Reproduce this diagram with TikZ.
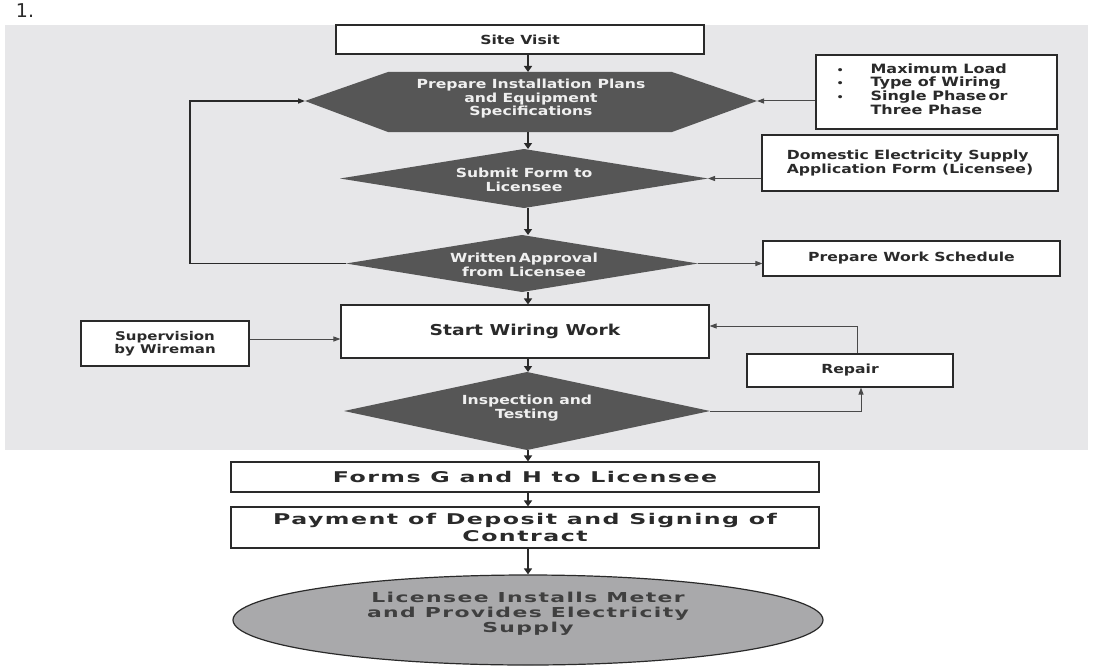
\documentclass[tikz,border=0pt]{standalone}
\usepackage{fontspec}
\setmainfont{DejaVu Sans}
\newfontfamily\vf[FakeStretch=1.25]{DejaVu Sans}
\newfontfamily\vw[FakeStretch=1.6,LetterSpace=10]{DejaVu Sans}
\usetikzlibrary{arrows.meta,shapes.geometric,calc}
\definecolor{bggray}{HTML}{E7E7E9}
\definecolor{diafill}{HTML}{565656}
\definecolor{ellfill}{HTML}{A9A9AB}
\definecolor{ink}{HTML}{2A2A2A}
\tikzset{
  box/.style={draw=ink, line width=1.1pt, fill=white, inner sep=0pt},
  txt/.style={font=\vf\bfseries\fontsize{12.5}{14}\selectfont, text=ink, align=center},
  wtxt/.style={font=\vf\bfseries\fontsize{12.5}{13.5}\selectfont, text=white!94!black, align=center},
  bigtxt/.style={font=\vw\bfseries\fontsize{14.8}{17}\selectfont, text=ink, align=center},
  arr/.style={draw=ink!85, line width=1pt, -{Triangle[length=7pt,width=5pt]}},
  axarr/.style={draw=ink, line width=1.6pt, -{Triangle[length=6pt,width=8pt]}},
}
% diamond drawn from its centre, half width and half height; named points
\newcommand\flowdia[4]{%
  \coordinate (#1L) at ($(#2)+(-#3,0)$);
  \coordinate (#1R) at ($(#2)+(#3,0)$);
  \coordinate (#1T) at ($(#2)+(0,-#4)$);
  \coordinate (#1B) at ($(#2)+(0,#4)$);
  \fill[diafill] (#1L) -- (#1T) -- (#1R) -- (#1B) -- cycle;}
\begin{document}
\begin{tikzpicture}[x=1pt,y=-1pt]
\useasboundingbox (0,0) rectangle (1094,666);
\fill[white] (0,0) rectangle (1094,666);
\fill[bggray] (5,25) rectangle (1088,450);
\node[font=\fontsize{19}{21}\selectfont, text=ink] (num) at (25,11) {1.};
\coordinate (ax) at (528,0);

% top box
\node[box, txt, minimum width=368pt, minimum height=29pt] (site) at (520,39.5) {Site Visit};

% hexagon
\coordinate (hexL) at (305,101);
\coordinate (hexR) at (757,101);
\coordinate (hexT) at (528,72);
\coordinate (hexB) at (528,132);
\fill[diafill] (hexL) -- (388,72) -- (672,72) -- (hexR) -- (672,132) -- (388,132) -- cycle;
\node[wtxt] (hex) at (531,99) {Prepare Installation Plans\\and Equipment\\Specifications};

% bullet box
\node[box, minimum width=241pt, minimum height=74pt] (load) at (936.5,92) {};
\node[txt, font=\vf\bfseries\fontsize{12.8}{13.8}\selectfont, align=left, anchor=west] (loadtxt) at (833,89)
  {\makebox[34pt][l]{\small\textbullet}Maximum Load\\
   \makebox[34pt][l]{\small\textbullet}Type of Wiring\\
   \makebox[34pt][l]{\small\textbullet}Single Phase\,or\\
   \hspace*{34pt}Three Phase};
\draw[arr] (load.west |- hexR) -- (hexR);

% submit
\coordinate (subC) at (524,178.5);
\flowdia{sub}{subC}{184}{29.5}
\node[wtxt] (submit) at (524,180) {Submit Form to\\Licensee};
\node[box, txt, align=left, minimum width=296pt, minimum height=56pt] (dom) at (910,163)
  {Domestic Electricity Supply\\Application Form (Licensee)};
\draw[arr] (dom.west |- subR) -- (subR);

% written approval
\coordinate (wriC) at (522,263.5);
\flowdia{wri}{wriC}{176}{28.5}
\node[wtxt] (written) at (524,265) {Written\,Approval\\from Licensee};
\node[box, txt, minimum width=297pt, minimum height=35pt] (sched) at (911.5,258.5) {Prepare Work Schedule};
\draw[arr] (wriR) -- (sched.west |- wriR);
\coordinate (loopc) at (190,0);
\draw[arr, line width=1.5pt, draw=ink] (wriL) -- (wriL -| loopc) -- (loopc |- hexL) -- (hexL);

% wiring
\node[box, txt, font=\vf\bfseries\fontsize{15}{17}\selectfont, minimum width=368pt, minimum height=53pt] (wiring) at (525,331.5) {Start Wiring Work};
\node[box, txt, font=\vf\bfseries\fontsize{12}{13.5}\selectfont, minimum width=168pt, minimum height=45pt] (superv) at (165,343.5) {Supervision\\by Wireman};
\draw[arr] (superv.east |- 0,339) -- (wiring.west |- 0,339);
\node[box, txt, minimum width=206pt, minimum height=33pt] (repair) at (850,370.5) {Repair};
\coordinate (rp) at (857,326);
\draw[arr] (repair.north -| rp) -- (rp) -- (wiring.east |- rp);

% inspection
\coordinate (insC) at (527,411);
\flowdia{ins}{insC}{183}{39}
\node[wtxt] (insp) at (527,408) {Inspection and\\Testing};
\coordinate (rq) at (861,0);
\draw[arr] (insR) -- (insR -| rq) -- (repair.south -| rq);

% bottom
\node[box, bigtxt, minimum width=588pt, minimum height=30pt] (forms) at (525,477) {Forms G and H to Licensee};
\node[box, bigtxt, minimum width=588pt, minimum height=41pt] (pay) at (525,527.5) {Payment of Deposit and Signing of\\Contract};
\node[ellipse, draw=ink, line width=1.2pt, fill=ellfill, minimum width=590pt, minimum height=90pt, inner sep=0pt] (meter) at (528,620) {};
\node[bigtxt, font=\vw\bfseries\fontsize{13.7}{15}\selectfont, text=ink!90] (metertxt) at (528,614) {Licensee Installs Meter\\and Provides Electricity\\Supply};

% axis arrows
\draw[axarr] (site.south -| ax) -- (hexT);
\draw[axarr] (hexB) -- (subT -| ax);
\draw[axarr] (subB -| ax) -- (wriT -| ax);
\draw[axarr] (wriB -| ax) -- (wiring.north -| ax);
\draw[axarr] (wiring.south -| ax) -- (insT -| ax);
\draw[axarr] (insB -| ax) -- (forms.north -| ax);
\draw[axarr] (forms.south -| ax) -- (pay.north -| ax);
\draw[axarr] (pay.south -| ax) -- (meter.north -| ax);
\end{tikzpicture}
\end{document}
